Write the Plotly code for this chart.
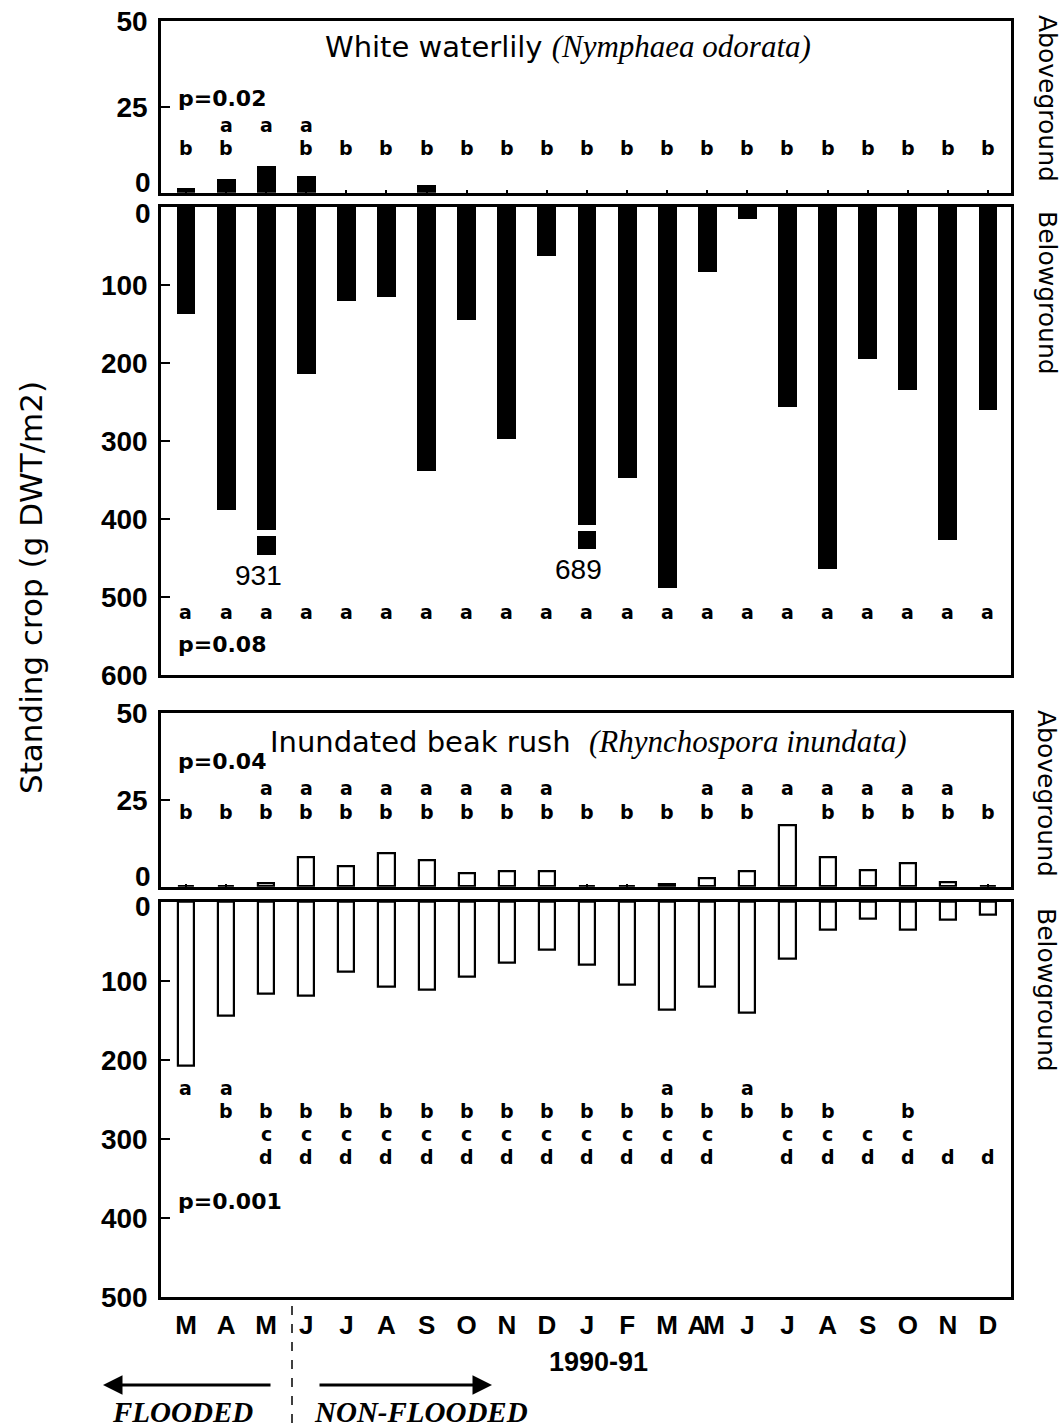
import plotly.graph_objects as go

# ---- data -------------------------------------------------------------
# 21 sampling dates, March 1990 - December 1991
samples = list(range(21))
months = ["M", "A", "M", "J", "J", "A", "S", "O", "N", "D", "J", "F",
          "M", "A", "M", "J", "J", "A", "S", "O", "N", "D"]
month_pos = [0, 1, 2, 3, 4, 5, 6, 7, 8, 9, 10, 11,
             12, 12.74, 13.17, 14, 15, 16, 17, 18, 19, 20]

# White waterlily (Nymphaea odorata), g DWT/m2
lily_above = [1.5, 4.2, 7.9, 4.9, 0, 0, 2.2, 0, 0, 0, 0, 0,
              0, 0, 0, 0, 0, 0, 0, 0, 0]
lily_below = [137, 389, 931, 214, 121, 115, 338, 145, 297, 63, 689, 348,
              489, 83, 16, 256, 464, 195, 234, 427, 260]
lily_above_grp = ["b", "ab", "a", "ab"] + ["b"] * 17
lily_below_grp = ["a"] * 21

# Inundated beak rush (Rhynchospora inundata), g DWT/m2
rush_above = [0, 0, 1.0, 8.5, 5.9, 9.6, 7.5, 4.0, 4.3, 4.5, 0, 0,
              0.8, 2.5, 4.5, 17.7, 8.6, 4.8, 6.8, 1.2, 0]
rush_below = [208, 144, 116, 119, 89, 108, 111, 95, 77, 61, 80, 105,
              137, 107, 141, 72, 36, 22, 36, 23, 16]
rush_above_grp = ["b", "b", "ab", "ab", "ab", "ab", "ab", "ab", "ab", "ab",
                  "b", "b", "b", "ab", "ab", "a", "ab", "ab", "ab", "ab", "b"]
rush_below_grp = ["a", "ab", "bcd", "bcd", "bcd", "bcd", "bcd", "bcd", "bcd",
                  "bcd", "bcd", "bcd", "abcd", "bcd", "ab", "bcd", "bcd",
                  "cd", "bcd", "d", "d"]

p_values = ["p=0.02", "p=0.08", "p=0.04", "p=0.001"]

# ---- layout helpers ---------------------------------------------------
W, H = 1061, 1428


def px(x):
    return x / W


def py(y):
    return 1 - y / H


X_LEFT, X_RIGHT = 161, 1011
X_RANGE = [-0.623, 20.574]
# panel pixel extents (top, bottom)
P1 = (20.7, 192.7)
P2 = (207.0, 675.0)
P3 = (713.3, 886.7)
P4 = (901.7, 1296.7)

Y1_MAX, Y2_MAX, Y3_MAX, Y4_MAX = 50, 600, 50, 500

# bars running past the axis are drawn with a break: (segment end, stub start, stub end)
BREAK_DRAW = {931: (414, 422, 446), 689: (408, 415, 438)}

BLACK = "#000000"
SANS = "Liberation Sans"
WIDE = "DejaVu Sans"
SERIF = "Liberation Serif"

fig = go.Figure()

# Panel 1: waterlily aboveground
fig.add_trace(go.Bar(x=samples, y=lily_above, width=0.47, xaxis="x", yaxis="y",
                     marker=dict(color=BLACK, line=dict(width=0))))

# Panel 2: waterlily belowground (with broken bars beyond the axis)
main_vals, stub_x, stub_base, stub_len = [], [], [], []
for i, v in enumerate(lily_below):
    if v > Y2_MAX:
        seg_end, s0, s1 = BREAK_DRAW[v]
        main_vals.append(seg_end)
        stub_x.append(i)
        stub_base.append(s0)
        stub_len.append(s1 - s0)
    else:
        main_vals.append(v)
fig.add_trace(go.Bar(x=samples, y=main_vals, width=0.47, xaxis="x2", yaxis="y2",
                     marker=dict(color=BLACK, line=dict(width=0))))
fig.add_trace(go.Bar(x=stub_x, y=stub_len, base=stub_base, width=0.47,
                     xaxis="x2", yaxis="y2",
                     marker=dict(color=BLACK, line=dict(width=0))))

# Panels 3 and 4: beak rush, open bars
fig.add_trace(go.Bar(x=samples, y=rush_above, width=0.40, xaxis="x3", yaxis="y3",
                     marker=dict(color="white", line=dict(color=BLACK, width=2.2))))
fig.add_trace(go.Bar(x=samples, y=rush_below, width=0.40, xaxis="x4", yaxis="y4",
                     marker=dict(color="white", line=dict(color=BLACK, width=2.2))))

tick_font = dict(family=SANS, size=28, color=BLACK, weight="bold")
axis_common = dict(showline=True, mirror=True, linecolor=BLACK, linewidth=2.5,
                   showgrid=False, zeroline=False, automargin=False, fixedrange=True)


def xaxis(anchor, tick_at=None, labels=False):
    d = dict(axis_common, domain=[px(X_LEFT), px(X_RIGHT)], range=X_RANGE,
             anchor=anchor)
    if labels:
        d.update(tickmode="array", tickvals=month_pos, ticktext=months,
                 ticks="", tickangle=0,
                 tickfont=dict(family=SANS, size=26, color=BLACK, weight="bold"),
                 ticklabelstandoff=3)
    else:
        d.update(showticklabels=False)
        if tick_at:
            # short baseline marks at sampling dates
            d.update(tickmode="array", tickvals=tick_at, ticks="inside",
                     ticklen=3, tickwidth=2, tickcolor=BLACK)
        else:
            d.update(ticks="")
    return d


def yaxis(anchor, pix, rng, vals):
    txt = [("" if v == 0 else str(v)) for v in vals]
    return dict(axis_common, domain=[py(pix[1]), py(pix[0])], range=rng,
                anchor=anchor, tickmode="array", tickvals=vals, ticktext=txt,
                ticks="inside", ticklen=9, tickwidth=2, tickcolor=BLACK,
                tickfont=tick_font, ticklabelstandoff=5)


fig.update_layout(
    width=W, height=H, margin=dict(l=0, r=0, t=0, b=0, autoexpand=False),
    paper_bgcolor="white", plot_bgcolor="white", showlegend=False,
    bargap=0, barmode="overlay",
    xaxis=xaxis("y", tick_at=samples),
    xaxis2=xaxis("y2"),
    xaxis3=xaxis("y3", tick_at=[i for i, v in enumerate(rush_above) if v == 0]),
    xaxis4=xaxis("y4", labels=True),
    yaxis=yaxis("x", P1, [0, Y1_MAX], [0, 25, 50]),
    yaxis2=yaxis("x2", P2, [Y2_MAX, 0], [0, 100, 200, 300, 400, 500, 600]),
    yaxis3=yaxis("x3", P3, [0, Y3_MAX], [0, 25, 50]),
    yaxis4=yaxis("x4", P4, [Y4_MAX, 0], [0, 100, 200, 300, 400, 500]),
)

ann = []


def label(x, y, text, font, **kw):
    d = dict(x=x, y=y, xref="paper", yref="paper", text=text, showarrow=False,
             xanchor="center", yanchor="middle", font=font)
    d.update(kw)
    ann.append(d)


# zero labels, nudged apart where two panels meet
for yref, shift in (("y", 10), ("y2", -6), ("y3", 10), ("y4", -5)):
    ann.append(dict(x=px(X_LEFT - 8), y=0, xref="paper", yref=yref, yshift=shift,
                    text="0", showarrow=False, xanchor="right", yanchor="middle",
                    font=tick_font))

letter_font = dict(family=WIDE, size=19, color=BLACK, weight="bold")
rows = {
    "y": {"a": 19.7, "b": 13.0},
    "y2": {"a": 519},
    "y3": {"a": 28.4, "b": 21.6},
    "y4": {"a": 236, "b": 265, "c": 294, "d": 323},
}
for yref, groups in (("y", lily_above_grp), ("y2", lily_below_grp),
                     ("y3", rush_above_grp), ("y4", rush_below_grp)):
    xref = "x" + yref[1:]
    for i, g in enumerate(groups):
        for letter in g:
            ann.append(dict(x=i, y=rows[yref][letter], xref=xref, yref=yref,
                            text=letter, showarrow=False, xanchor="center",
                            yanchor="middle", font=letter_font))

# p-values of the seasonal comparison
p_font = dict(family=WIDE, size=22, color=BLACK, weight="bold")
p_pos = [("y", 27.5, 176), ("y2", 561, 176), ("y3", 36.0, 176), ("y4", 380, 176)]
for (yref, yv, xpix), ptxt in zip(p_pos, p_values):
    ann.append(dict(x=px(xpix), y=yv, xref="paper", yref=yref, text=ptxt,
                    showarrow=False, xanchor="left", yanchor="middle", font=p_font))

# values of the broken bars
for i, v in enumerate(lily_below):
    if v > Y2_MAX:
        ann.append(dict(x=i, y=BREAK_DRAW[v][2], xref="x2", yref="y2",
                        xshift=-8, yshift=-3, text=str(v), showarrow=False,
                        xanchor="center", yanchor="top",
                        font=dict(family=SANS, size=28, color=BLACK)))

# species titles
title_font = dict(family=WIDE, size=29, color=BLACK)
label(px(568), py(47),
      'White waterlily <span style="font-family:Liberation Serif;font-size:31px">'
      '<i>(Nymphaea odorata)</i></span>', title_font)
label(px(588), py(741),
      'Inundated beak rush&nbsp;&nbsp;<span style="font-family:Liberation Serif;font-size:31px">'
      '<i>(Rhynchospora inundata)</i></span>', title_font)

# right-hand panel labels
side_font = dict(family=WIDE, size=25, color=BLACK)
for text, ypix in (("Aboveground", 98), ("Belowground", 293),
                   ("Aboveground", 793), ("Belowground", 990)):
    label(px(1047), py(ypix), text, side_font, textangle=90)

# y-axis title
label(px(31), py(588), "Standing crop (g DWT/m2)",
      dict(family=WIDE, size=31, color=BLACK), textangle=-90)

# year label
label(px(598), py(1362), "1990-91",
      dict(family=SANS, size=27, color=BLACK, weight="bold"))

# flooding period arrows
ann.append(dict(x=px(103), y=py(1385), xref="paper", yref="paper", ax=169, ay=0,
                text="", showarrow=True, arrowhead=2, arrowsize=1.3, arrowwidth=3,
                arrowcolor=BLACK))
ann.append(dict(x=px(492), y=py(1385), xref="paper", yref="paper", ax=-174, ay=0,
                text="", showarrow=True, arrowhead=2, arrowsize=1.3, arrowwidth=3,
                arrowcolor=BLACK))
flood_font = dict(family=SERIF, size=29, color=BLACK, style="italic", weight="bold")
label(px(182), py(1412), "FLOODED", flood_font)
label(px(421), py(1412), "NON-FLOODED", flood_font)

fig.update_layout(annotations=ann)

# boundary between flooded and non-flooded periods
fig.add_shape(type="line", xref="paper", yref="paper",
              x0=px(292), x1=px(292), y0=py(1306), y1=py(1428),
              line=dict(color=BLACK, width=1.5, dash="dash"))

fig.write_html("out.html")
